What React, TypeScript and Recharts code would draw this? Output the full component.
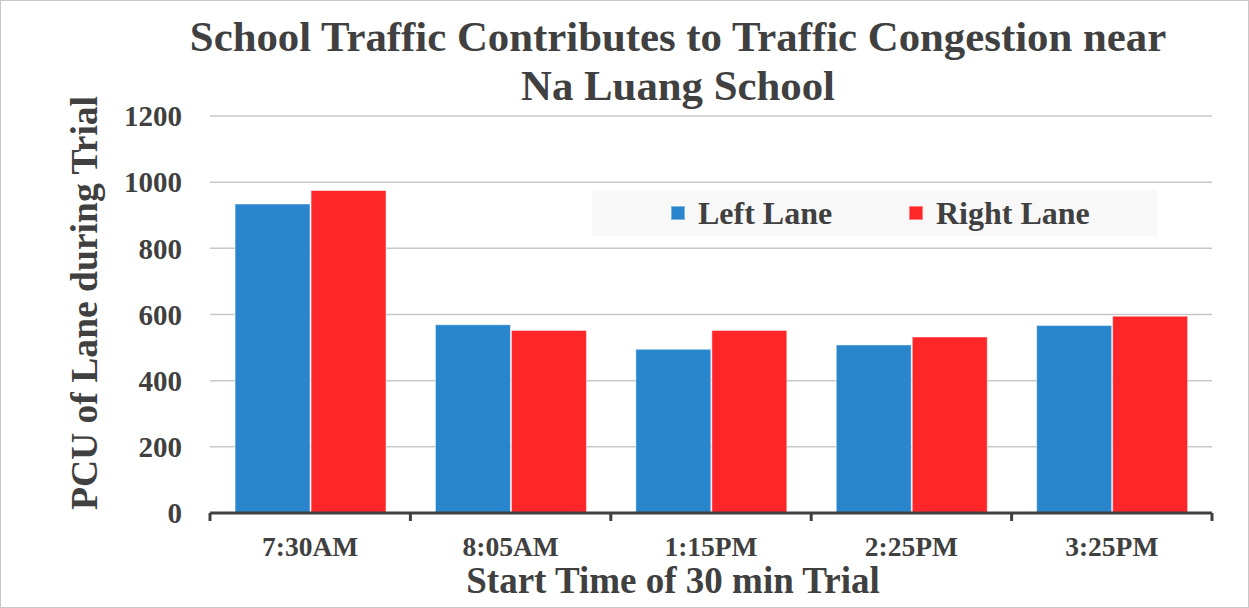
import { BarChart, Bar, XAxis, YAxis, CartesianGrid, Legend } from 'recharts'

const times = ['7:30AM', '8:05AM', '1:15PM', '2:25PM', '3:25PM']
const leftLane = [934, 569, 495, 508, 567]
const rightLane = [975, 552, 552, 532, 595]
const yTicks = [0, 200, 400, 600, 800, 1000, 1200]

const data = times.map((t, i) => ({ time: t, left: leftLane[i], right: rightLane[i] }))

const W = 1249
const H = 608
const PLOT_LEFT = 210
const PLOT_RIGHT = 1212
const PLOT_BOTTOM = 513
const BAND = (PLOT_RIGHT - PLOT_LEFT) / times.length
const INK = '#404040'
const FONT = '"Liberation Serif", "Times New Roman", serif'

function TimeTick(props: any) {
  const { x, payload, index } = props
  const last = index === times.length - 1
  return (
    <g>
      <line x1={x - BAND / 2} x2={x - BAND / 2} y1={PLOT_BOTTOM} y2={PLOT_BOTTOM + 8} stroke={INK} strokeWidth={3} />
      {last && <line x1={x + BAND / 2} x2={x + BAND / 2} y1={PLOT_BOTTOM} y2={PLOT_BOTTOM + 8} stroke={INK} strokeWidth={3} />}
      <text x={x} y={556} textAnchor="middle" fill={INK} fontSize={27.5} fontWeight="bold" fontFamily={FONT}>
        {payload.value}
      </text>
    </g>
  )
}

function LaneLegend() {
  const item = (color: string, label: string, left: number) => (
    <div style={{ position: 'absolute', left, top: 0, height: 46, display: 'flex', alignItems: 'center' }}>
      <span style={{ width: 12, height: 12, background: color, marginRight: 13, border: '1px solid rgba(255,255,255,0.4)' }} />
      <span style={{ fontSize: 32, fontWeight: 'bold', color: INK, fontFamily: FONT }}>{label}</span>
    </div>
  )
  return (
    <div style={{ position: 'relative', width: 565, height: 46, background: '#f8f8f8' }}>
      {item('#2986CC', 'Left Lane', 79)}
      {item('#FF262A', 'Right Lane', 317)}
    </div>
  )
}

export default function App() {
  return (
    <div style={{ position: 'absolute', left: 0, top: 0, width: W, height: H, background: '#fff' }}>
      <BarChart
        width={W}
        height={H}
        data={data}
        margin={{ top: 116, right: W - PLOT_RIGHT, left: 130, bottom: 0 }}
        barCategoryGap="12.5%"
        barGap={1}
      >
        <CartesianGrid vertical={false} stroke="#c8c8c8" strokeWidth={1.5} />
        <XAxis
          dataKey="time"
          height={H - PLOT_BOTTOM}
          axisLine={{ stroke: INK, strokeWidth: 3 }}
          tickLine={false}
          tick={<TimeTick />}
          interval={0}
        />
        <YAxis
          width={80}
          domain={[0, 1200]}
          ticks={yTicks}
          axisLine={false}
          tickLine={false}
          tickMargin={22}
          tick={{ fill: INK, fontSize: 29, fontWeight: 'bold', fontFamily: FONT }}
        />
        <Legend
          layout="horizontal"
          verticalAlign="middle"
          align="center"
          wrapperStyle={{ left: 592, top: 190, width: 565 }}
          content={<LaneLegend />}
        />
        <Bar dataKey="left" name="Left Lane" fill="#2986CC" stroke="rgba(255,255,255,0.5)" isAnimationActive={false} />
        <Bar dataKey="right" name="Right Lane" fill="#FF262A" stroke="rgba(255,255,255,0.5)" isAnimationActive={false} />
      </BarChart>
      <svg width={W} height={H} style={{ position: 'absolute', left: 0, top: 0, pointerEvents: 'none' }}>
        <rect x={0.5} y={0.5} width={W - 1} height={H - 1} fill="none" stroke="#c8c8c8" />
        <g fill={INK} fontWeight="bold" fontFamily={FONT} textAnchor="middle">
          <text x={678} y={51} fontSize={42.8}>School Traffic Contributes to Traffic Congestion near</text>
          <text x={678} y={100} fontSize={42.8}>Na Luang School</text>
          <text x={673} y={593} fontSize={37}>Start Time of 30 min Trial</text>
          <text transform="translate(97,303) rotate(-90)" fontSize={37.6}>PCU of Lane during Trial</text>
        </g>
      </svg>
    </div>
  )
}
